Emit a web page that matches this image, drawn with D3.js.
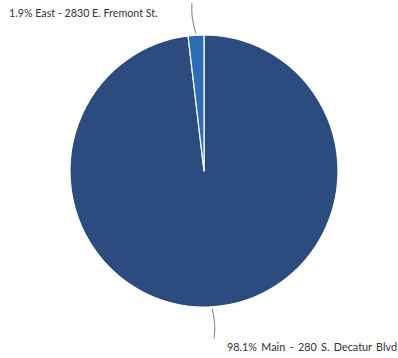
<!DOCTYPE html>
<html><head><meta charset="utf-8">
<script src="https://cdn.jsdelivr.net/npm/d3@7"></script>
<style>html,body{margin:0;padding:0;background:#fff;}svg{display:block;}</style>
</head><body>
<svg id="chart" width="398" height="358"></svg>
<script>
const categories = ["Main - 280 S. Decatur Blvd", "East - 2830 E. Fremont St."];
const values = [98.1, 1.9];
const percentLabels = ["98.1%", "1.9%"];
const colors = ["#2c4b7e", "#2d6db5"];

const svg = d3.select("#chart");
const cx = 204, cy = 171, r = 134;
const g = svg.append("g").attr("transform", `translate(${cx},${cy}) scale(1,1.015)`);

const data = categories.map((c, i) => ({ name: c, value: values[i], pct: percentLabels[i], color: colors[i] }));
const pie = d3.pie().sort(null).value(d => d.value).startAngle(0).endAngle(2 * Math.PI);
const arcs = pie(data);
const arc = d3.arc().innerRadius(0).outerRadius(r);

g.selectAll("path.slice").data(arcs).enter().append("path")
  .attr("class", "slice")
  .attr("d", arc)
  .attr("fill", d => d.data.color)
  .attr("stroke", "#ffffff")
  .attr("stroke-width", 1.2)
  .attr("stroke-linejoin", "round");

// leader lines and labels
const labelPos = [
  { tx: 227, ty: 351, bend: 3, ws: 1.6, fs: 10.8 },
  { tx: 9, ty: 17, bend: -3, ws: 0, fs: 10.7 }
];
arcs.forEach((a, i) => {
  const mid = (a.startAngle + a.endAngle) / 2;
  const x0 = cx + Math.sin(mid) * (r + 2);
  const y0 = cy - Math.cos(mid) * (r + 2) * 1.015;
  const dir = Math.cos(mid) > 0 ? -1 : 1;
  const x1 = x0 + (i === 0 ? 2 : -4);
  const y1 = y0 + dir * 30;
  const qx = (x0 + x1) / 2 + labelPos[i].bend;
  const qy = (y0 + y1) / 2;
  svg.append("path")
    .attr("d", `M${x0},${y0} Q${qx},${qy} ${x1},${y1}`)
    .attr("fill", "none")
    .attr("stroke", "#8a8a8a")
    .attr("stroke-width", 1.1);
  svg.append("text")
    .attr("x", labelPos[i].tx)
    .attr("y", labelPos[i].ty)
    .attr("text-anchor", "start")
    .attr("font-family", "Lato, 'Open Sans', sans-serif")
    .attr("font-size", labelPos[i].fs)
    .attr("word-spacing", labelPos[i].ws)
    .attr("fill", "#333333")
    .text(`${a.data.pct} ${a.data.name}`);
});
</script>
</body></html>
